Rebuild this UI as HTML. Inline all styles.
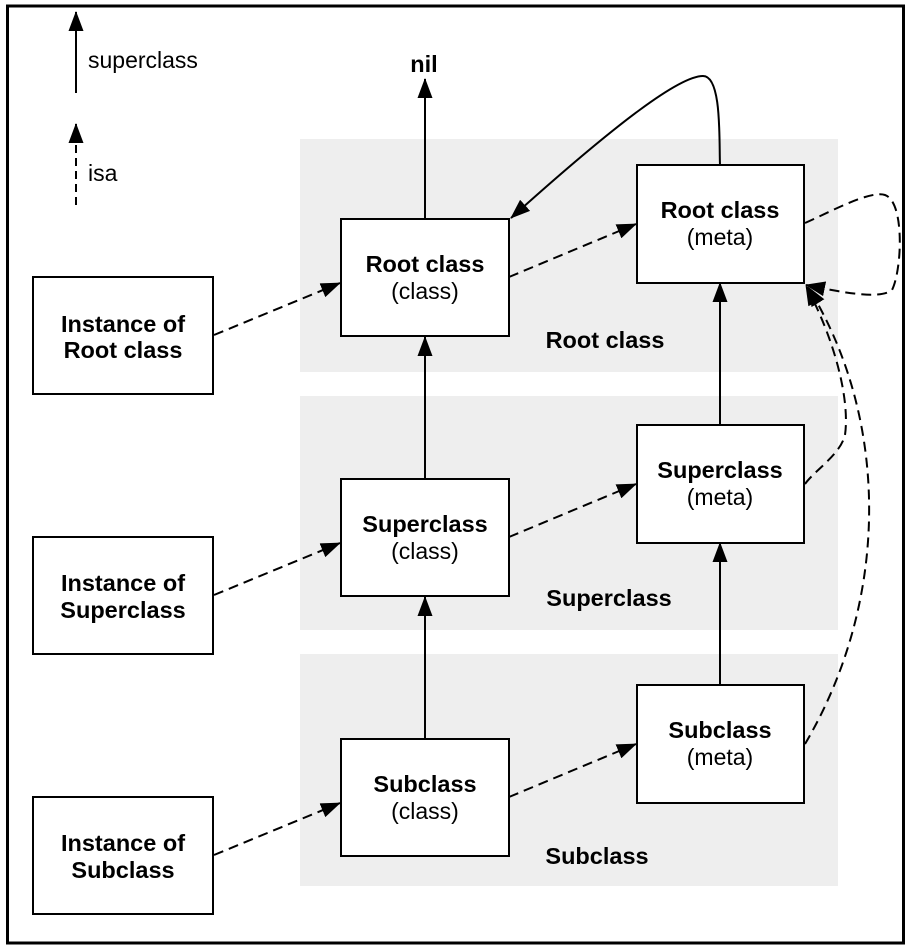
<!DOCTYPE html>
<html><head><meta charset="utf-8"><style>
html,body{margin:0;padding:0;background:#fff}
svg{display:block}
text{font-family:"Liberation Sans",Arial,sans-serif;fill:#000}
.b{font-weight:bold;font-size:23.5px}
.n{font-size:23px}
</style></head><body>
<svg width="914" height="952" viewBox="0 0 914 952" xmlns="http://www.w3.org/2000/svg">
<defs>
<marker id="ah2" markerWidth="20" markerHeight="16" refX="19" refY="8" orient="auto" markerUnits="userSpaceOnUse" viewBox="0 0 20 16">
<path d="M0,0.5 L20,8 L0,15.5 z" fill="#000"/></marker>
</defs>
<rect x="7.5" y="6" width="896" height="937" fill="#fff" stroke="#000" stroke-width="3"/>
<rect x="300" y="139" width="538" height="233" fill="#eee"/>
<rect x="300" y="396" width="538" height="234" fill="#eee"/>
<rect x="300" y="654" width="538" height="232" fill="#eee"/>

<g fill="none" stroke="#000" stroke-width="2">
<line x1="76" y1="93" x2="76" y2="12" marker-end="url(#ah2)"/>
<line x1="76" y1="205" x2="76" y2="124" stroke-dasharray="8,5" marker-end="url(#ah2)"/>
<line x1="425" y1="219" x2="425" y2="79" marker-end="url(#ah2)"/>
<line x1="425" y1="479" x2="425" y2="337" marker-end="url(#ah2)"/>
<line x1="425" y1="739" x2="425" y2="597" marker-end="url(#ah2)"/>
<line x1="720" y1="425" x2="720" y2="283" marker-end="url(#ah2)"/>
<line x1="720" y1="685" x2="720" y2="543" marker-end="url(#ah2)"/>
<path d="M720,165 C719,140 722,76 703,76 C680,76 620,120 511,218" marker-end="url(#ah2)"/>
<g stroke-dasharray="10,6">
<line x1="214" y1="335" x2="340" y2="283" marker-end="url(#ah2)"/>
<line x1="214" y1="595" x2="340" y2="543" marker-end="url(#ah2)"/>
<line x1="214" y1="855" x2="340" y2="803" marker-end="url(#ah2)"/>
<line x1="509" y1="277" x2="636" y2="224" marker-end="url(#ah2)"/>
<line x1="509" y1="537" x2="636" y2="484" marker-end="url(#ah2)"/>
<line x1="509" y1="797" x2="636" y2="744" marker-end="url(#ah2)"/>
<path d="M805,223 C830,212 870,190 885,195 C905,202 902,270 892,290 C880,300 840,292 806,285" marker-end="url(#ah2)"/>
<path d="M805,484 C815,470 840,455 845,435 C850,400 835,340 806,286" marker-end="url(#ah2)"/>
<path d="M805,744 C890,600 890,420 808,287" marker-end="url(#ah2)"/>
</g>
</g>

<g fill="#fff" stroke="#000" stroke-width="2">
<rect x="33" y="277" width="180" height="117"/>
<rect x="33" y="537" width="180" height="117"/>
<rect x="33" y="797" width="180" height="117"/>
<rect x="341" y="219" width="168" height="117"/>
<rect x="341" y="479" width="168" height="117"/>
<rect x="341" y="739" width="168" height="117"/>
<rect x="637" y="165" width="167" height="118"/>
<rect x="637" y="425" width="167" height="118"/>
<rect x="637" y="685" width="167" height="118"/>
</g>

<g text-anchor="middle">
<text class="n" x="88" y="68" text-anchor="start">superclass</text>
<text class="n" x="88" y="181" text-anchor="start">isa</text>
<text class="b" x="424" y="72">nil</text>
<text class="b" x="123" y="332">Instance of</text><text class="b" x="123" y="358">Root class</text>
<text class="b" x="123" y="591">Instance of</text><text class="b" x="123" y="618">Superclass</text>
<text class="b" x="123" y="851">Instance of</text><text class="b" x="123" y="878">Subclass</text>
<text class="b" x="425" y="272">Root class</text><text class="n" x="425" y="299">(class)</text>
<text class="b" x="425" y="532">Superclass</text><text class="n" x="425" y="559">(class)</text>
<text class="b" x="425" y="792">Subclass</text><text class="n" x="425" y="819">(class)</text>
<text class="b" x="720" y="218">Root class</text><text class="n" x="720" y="245">(meta)</text>
<text class="b" x="720" y="478">Superclass</text><text class="n" x="720" y="505">(meta)</text>
<text class="b" x="720" y="738">Subclass</text><text class="n" x="720" y="765">(meta)</text>
<text class="b" x="605" y="348">Root class</text>
<text class="b" x="609" y="606">Superclass</text>
<text class="b" x="597" y="864">Subclass</text>
</g>
</svg>
</body></html>
